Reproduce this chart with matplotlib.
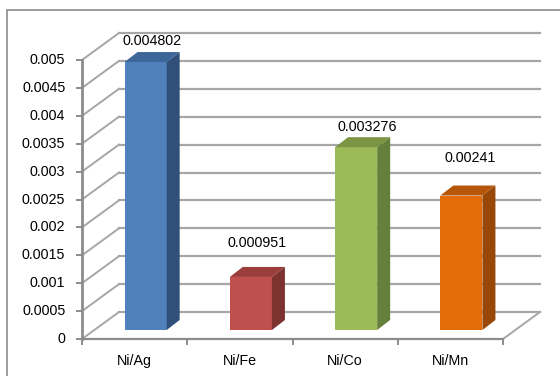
import matplotlib.pyplot as plt
from matplotlib.patches import Polygon, Rectangle

# Chart data
categories = ["Ni/Ag", "Ni/Fe", "Ni/Co", "Ni/Mn"]
values = [0.004802, 0.000951, 0.003276, 0.00241]
value_labels = ["0.004802", "0.000951", "0.003276", "0.00241"]
y_ticks = [0, 0.0005, 0.001, 0.0015, 0.002, 0.0025, 0.003, 0.0035, 0.004, 0.0045, 0.005]
y_tick_labels = ["0", "0.0005", "0.001", "0.0015", "0.002", "0.0025", "0.003",
                 "0.0035", "0.004", "0.0045", "0.005"]

# Excel-style face colours: front, top, side
face_colors = ["#4f81bd", "#c0504d", "#9bbb59", "#e36c09"]
top_colors = ["#3d6699", "#9b3d3b", "#7b9545", "#b55608"]
side_colors = ["#30507a", "#7e3230", "#65803a", "#984707"]

plt.rcParams["font.family"] = ["Liberation Sans", "DejaVu Sans"]

W, H = 560, 376
fig = plt.figure(figsize=(W / 100, H / 100), dpi=100)

# front plane of the 3D box in pixels
x_left, x_right, y_zero, y_top = 82, 503, 339, 60
ax = fig.add_axes([x_left / W, (H - y_zero) / H,
                   (x_right - x_left) / W, (y_zero - y_top) / H])
ax.set_xlim(-0.5, len(categories) - 0.5)
ax.set_ylim(0, 0.005)
ax.axis("off")

px_per_cat = (x_right - x_left) / len(categories)
px_per_val = (y_zero - y_top) / 0.005


def off(px, py):
    return px / px_per_cat, py / px_per_val


grid_col = "#a6a6a6"
axis_col = "#8c8c8c"
x0, x1 = -0.5, len(categories) - 0.5

# back wall depth
dx, dy = off(37, 27)

# gridlines on the back wall and left side wall
for v in y_ticks:
    ax.plot([x0, x0 + dx], [v, v + dy], color=grid_col, lw=1.4, clip_on=False)
    ax.plot([x0 + dx, x1 + dx], [v + dy, v + dy], color=grid_col, lw=1.6, clip_on=False)

# floor edges
ax.plot([x0, x1], [0, 0], color=axis_col, lw=1.6, clip_on=False)
ax.plot([x1, x1 + dx], [0, dy], color=grid_col, lw=1.4, clip_on=False)

# value axis line and tick marks
ax.plot([x0, x0], [0, 0.005], color=axis_col, lw=2, clip_on=False, zorder=3)
tx, _ = off(5, 0)
for v, t in zip(y_ticks, y_tick_labels):
    ax.plot([x0 - tx, x0], [v, v], color=axis_col, lw=1.4, clip_on=False)
    ax.annotate(t, (x0, v), xytext=(-12, 0),
                textcoords="offset points", ha="right", va="center",
                fontsize=10.3, color="#000000", annotation_clip=False)

# category boundary tick marks
_, ty = off(0, 5)
for k in range(len(categories) + 1):
    ax.plot([x0 + k, x0 + k], [0, -ty], color=axis_col, lw=1.4, clip_on=False)

# bars placed partway into the depth
fx, fy = off(11, 9)
bx, by = off(13, 10)
bar_w = 0.4
label_gaps = [3, 12, 2, 15]
label_dx = [0, 0, 3, 2]

for i, (v, lab) in enumerate(zip(values, value_labels)):
    left = i - bar_w / 2 + fx
    right = i + bar_w / 2 + fx
    bottom = fy
    top = v + fy
    ax.add_patch(Rectangle((left, bottom), bar_w, v, facecolor=face_colors[i],
                           edgecolor="none", clip_on=False, zorder=4))
    ax.add_patch(Polygon([(left, top), (right, top), (right + bx, top + by),
                          (left + bx, top + by)], closed=True,
                         facecolor=top_colors[i], edgecolor="none",
                         clip_on=False, zorder=4))
    ax.add_patch(Polygon([(right, bottom), (right + bx, bottom + by),
                          (right + bx, top + by), (right, top)], closed=True,
                         facecolor=side_colors[i], edgecolor="none",
                         clip_on=False, zorder=4))
    ax.annotate(lab, (i + fx + bx / 2, top + by),
                xytext=(label_dx[i], label_gaps[i]), textcoords="offset points",
                ha="center", va="bottom", fontsize=10.3, annotation_clip=False,
                zorder=5)

# category labels
for i, c in enumerate(categories):
    ax.annotate(c, (i, 0), xytext=(0, -16), textcoords="offset points",
                ha="center", va="center", fontsize=10.3, annotation_clip=False)

# chart area border
fig.patches.append(Rectangle((7 / W, -0.1), 1.2, (H - 10) / H + 0.1,
                             transform=fig.transFigure, fill=False,
                             edgecolor="#8c8c8c", lw=1.2))

fig.savefig("out.png", dpi=100)
